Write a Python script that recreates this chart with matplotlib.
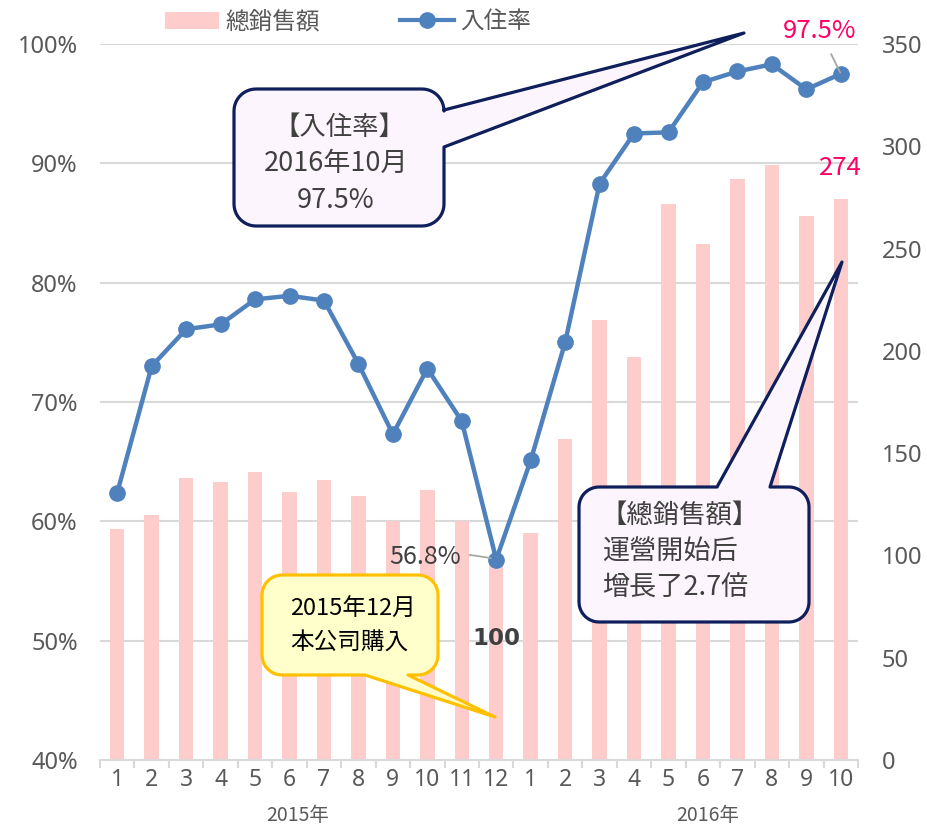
import matplotlib
matplotlib.use("Agg")
import matplotlib.pyplot as plt
import matplotlib.transforms as mtransforms
from matplotlib.patches import Polygon, Patch
from matplotlib.lines import Line2D
import numpy as np

# ---------------- data ----------------
months = ['1', '2', '3', '4', '5', '6', '7', '8', '9', '10', '11', '12',
          '1', '2', '3', '4', '5', '6', '7', '8', '9', '10']
sales = [113, 120, 138, 136, 141, 131, 137, 129, 117, 132, 117, 100,
         111, 157, 215, 197, 272, 252, 284, 291, 266, 274]
occupancy = [62.4, 73.0, 76.1, 76.5, 78.6, 78.9, 78.5, 73.2, 67.3, 72.8, 68.4, 56.8,
             65.1, 75.0, 88.3, 92.5, 92.6, 96.8, 97.7, 98.3, 96.2, 97.5]
left_ticks = [40, 50, 60, 70, 80, 90, 100]
right_ticks = [0, 50, 100, 150, 200, 250, 300, 350]
years = ['2015年', '2016年']
year_pos = [5.25, 17.15]
series_names = ['總銷售額', '入住率']

# ---------------- style ----------------
W, H = 928, 826
BAR_C = '#FFCCCC'
LINE_C = '#4F81BD'
GRID_C = '#D9D9D9'
TICK_C = '#595959'
TXT_C = '#404040'
PINK = '#FF0066'
NAVY = '#0E1F5B'
CJK = ['Noto Sans CJK JP', 'DejaVu Sans']
LAT = ['Noto Sans', 'Noto Sans CJK JP', 'DejaVu Sans']

plt.rcParams['font.family'] = LAT

fig = plt.figure(figsize=(W / 100, H / 100), dpi=100)
L, R, T, B = 100, 858, 44, 760
ax = fig.add_axes([L / W, 1 - B / H, (R - L) / W, (B - T) / H])
ax2 = ax.twinx()
ax.set_zorder(2)
ax2.set_zorder(1)
ax.patch.set_visible(False)

x = np.arange(len(months))

# bars (right axis)
ax2.bar(x, sales, width=0.42, color=BAR_C, zorder=2)
ax2.set_ylim(0, 350)
ax2.set_yticks(right_ticks)

# gridlines at left-axis ticks, under the bars
gtrans = mtransforms.blended_transform_factory(ax2.transAxes, ax.transData)
for t in left_ticks[1:]:
    ax2.add_line(Line2D([0, 1], [t, t], transform=gtrans, color=GRID_C, lw=1.5, zorder=1))

# line (left axis)
ax.plot(x, occupancy, color=LINE_C, lw=3.2, marker='o', ms=11, zorder=3,
        solid_joinstyle='round')
ax.set_ylim(40, 100)
ax.set_yticks(left_ticks)
ax.set_yticklabels([f'{t}%' for t in left_ticks])
ax.set_xlim(-0.5, len(months) - 0.5)
ax.set_xticks(x)
ax.set_xticklabels(months)
ax.set_xticks(np.arange(-0.5, len(months), 1), minor=True)

for a in (ax, ax2):
    for s in a.spines.values():
        s.set_visible(False)
ax.spines['bottom'].set_visible(True)
ax.spines['bottom'].set_color(GRID_C)
ax.spines['bottom'].set_linewidth(1.5)

ax.tick_params(axis='y', length=0, pad=16, labelsize=17, labelcolor=TICK_C)
ax2.tick_params(axis='y', length=0, pad=17, labelsize=17, labelcolor=TICK_C)
ax.tick_params(axis='x', which='major', length=0, pad=6, labelsize=16.5, labelcolor=TICK_C)
ax.tick_params(axis='x', which='minor', length=6, width=1.5, color=GRID_C)
ax2.tick_params(axis='x', which='both', length=0)

# year labels
ytrans = mtransforms.blended_transform_factory(ax.transData, ax.transAxes)
for yl, xp in zip(years, year_pos):
    ax.text(xp, -0.077, yl, transform=ytrans, ha='center', va='center',
            fontsize=14, color=TICK_C, family=CJK)

# data labels
i_min = 11
ax.annotate(f'{occupancy[i_min]}%', xy=(i_min, occupancy[i_min]), xytext=(-35, 3),
            textcoords='offset pixels', ha='right', va='center', fontsize=18,
            color=TXT_C, family=CJK,
            arrowprops=dict(arrowstyle='-', color='#A6A6A6', lw=1.3,
                            shrinkA=4, shrinkB=4, connectionstyle='arc3,rad=-0.1'))
i_last = len(months) - 1
ax.annotate(f'{occupancy[i_last]}%', xy=(i_last, occupancy[i_last]), xytext=(-21, 43),
            textcoords='offset pixels', ha='center', va='center', fontsize=18.5,
            color=PINK, family=CJK,
            arrowprops=dict(arrowstyle='-', color='#A6A6A6', lw=1.3,
                            shrinkA=6, shrinkB=1))
ax2.annotate(f'{sales[i_last]}', xy=(i_last, sales[i_last]), xytext=(0, 31),
             textcoords='offset pixels', ha='center', va='center', fontsize=18.5,
             color=PINK, family=CJK)
ax2.annotate(f'{sales[i_min]}', xy=(i_min, sales[i_min]), xytext=(0, -83),
             textcoords='offset pixels', ha='center', va='center', fontsize=16.5,
             color=TXT_C, family=['DejaVu Sans'], fontweight='bold', zorder=5)

# legend
handles = [Patch(facecolor=BAR_C, edgecolor='none'),
           Line2D([0], [0], color=LINE_C, lw=3, marker='o', ms=11)]
fig.legend(handles, series_names, loc='center', bbox_to_anchor=(348 / W, 1 - 22 / H),
           ncol=2, frameon=False, prop={'family': CJK, 'size': 17},
           handlelength=2.3, handletextpad=0.25, columnspacing=3.4,
           labelcolor=TICK_C)


# ---------------- callouts ----------------
def callout(x0, y0, x1, y1, r, side, n1, n2, tip, fc, ec, lw):
    pts = []

    def arc(cx, cy, a0, a1):
        for a in np.linspace(np.radians(a0), np.radians(a1), 12):
            pts.append((cx + r * np.cos(a), cy + r * np.sin(a)))

    arc(x0 + r, y0 + r, 180, 270)
    if side == 'top':
        pts += [(n1, y0), tip, (n2, y0)]
    arc(x1 - r, y0 + r, 270, 360)
    if side == 'right':
        pts += [(x1, n1), tip, (x1, n2)]
    arc(x1 - r, y1 - r, 0, 90)
    if side == 'bottom':
        pts += [(n2, y1), tip, (n1, y1)]
    arc(x0 + r, y1 - r, 90, 180)
    fpts = [(px / W, 1 - py / H) for px, py in pts]
    poly = Polygon(fpts, closed=True, transform=fig.transFigure, facecolor=fc,
                   edgecolor=ec, lw=lw, joinstyle='round', zorder=5)
    fig.add_artist(poly)


def ftext(px, py, s, **kw):
    fig.text(px / W, 1 - py / H, s, zorder=6, **kw)


callout(234, 89, 444, 226, 22, 'right', 110, 147, (744, 33), '#FDF5FD', NAVY, 2.3)
ftext(339, 127, '【入住率】', ha='center', va='center', fontsize=19, color=TXT_C, family=CJK)
ftext(336, 163, '2016年10月', ha='center', va='center', fontsize=19.5, color=TXT_C, family=CJK)
ftext(336, 200, '97.5%', ha='center', va='center', fontsize=19.5, color=TXT_C, family=CJK)

callout(579, 487, 809, 622, 20, 'top', 717, 770, (842, 262), '#FDF5FD', NAVY, 2.3)
ftext(600, 516, '【總銷售額】', ha='left', va='center', fontsize=19, color=TXT_C, family=CJK)
ftext(602, 552, '運營開始后', ha='left', va='center', fontsize=19.5, color=TXT_C, family=CJK)
ftext(602, 588, '增長了2.7倍', ha='left', va='center', fontsize=19.5, color=TXT_C, family=CJK)

callout(262, 575, 438, 675, 20, 'bottom', 365, 408, (495, 717), '#FFFFCC', '#FFC000', 2.3)
ftext(290, 609, '2015年12月', ha='left', va='center', fontsize=17, color='black', family=CJK)
ftext(290, 643, '本公司購入', ha='left', va='center', fontsize=17, color='black', family=CJK)

fig.savefig('out.png', dpi=100)
